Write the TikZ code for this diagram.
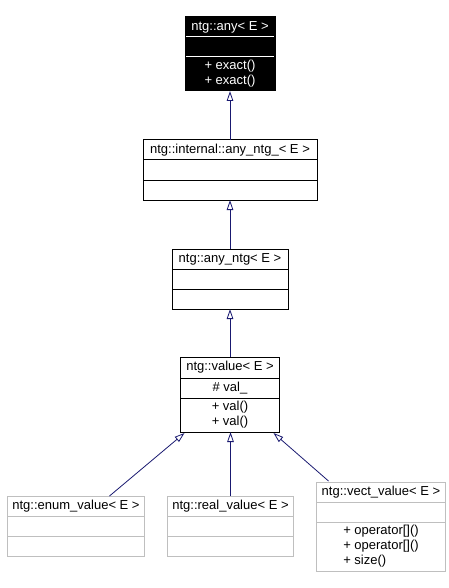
\documentclass[tikz,border=0pt]{standalone}
\usepackage{fontspec}
\setmainfont{Liberation Sans}
\usepackage{tikz}
\usetikzlibrary{positioning}
\usetikzlibrary{shapes,arrows.meta}

\definecolor{midnightblue}{RGB}{25,25,112}
\definecolor{grey75}{RGB}{191,191,191}

\begin{document}
\begin{tikzpicture}[x=1pt,y=1pt,line width=1pt,
                    classtitle/.style={rectangle,
                                        inner sep=0mm,outer sep=0,
                                        draw=black,
                                        minimum height=20pt,
                                        font=\fontsize{13}{15}\selectfont
                                      },
                    classpart/.style={classtitle,align=left},
                    classblack/.style={fill=black,text=white},
                    classgrey/.style={draw=grey75},
                    inherit/.style={
                                    draw=midnightblue,
                                    line width=0.8pt,
                                    -{Triangle[open,length=10pt,width=6.5pt]}
                                    }
                     ]
\useasboundingbox (0,0) rectangle (449,-588);
% ntg::any
\node[classtitle,classblack,minimum width=90pt] (any) at (230,-27) {ntg::any< E >};
\node[classpart,classblack,minimum width=90pt,below=0pt of any] (anyattr) {};
\node[classpart,classblack,minimum width=90pt,minimum height=34pt,below=0pt of anyattr] (anyops) {+ exact()\\+ exact()};
\draw[white] ([xshift=1pt]anyattr.north west) -- ([xshift=-1pt]anyattr.north east);
\draw[white] ([xshift=1pt]anyops.north west) -- ([xshift=-1pt]anyops.north east);
% ntg::internal::any_ntg_
\node[classtitle,minimum width=174pt,below=49pt of anyops] (internal) {ntg::internal::any\_ntg\_< E >};
\node[classpart,minimum width=174pt,below=0pt of internal] (internalattr) {};
\node[classpart,minimum width=174pt,below=0pt of internalattr] (internalops) {};
% ntg::any_ntg
\node[classtitle,minimum width=116pt,below=49pt of internalops] (anyntg) {ntg::any\_ntg< E >};
\node[classpart,minimum width=116pt,below=0pt of anyntg] (anyntgattr) {};
\node[classpart,minimum width=116pt,below=0pt of anyntgattr] (anyntgops) {};
% ntg::value
\node[classtitle,minimum width=99pt,minimum height=21pt,below=48pt of anyntgops] (value) {ntg::value< E >};
\node[classpart,minimum width=99pt,below=0pt of value] (valueattr) {\# val\_};
\node[classpart,minimum width=99pt,minimum height=34pt,below=0pt of valueattr] (valueops) {+ val()\\+ val()};
% derived classes
\node[classtitle,classgrey,minimum width=137pt,below=64pt of valueops,xshift=-154pt] (enum) {ntg::enum\_value< E >};
\node[classpart,classgrey,minimum width=137pt,below=0pt of enum] (enumattr) {};
\node[classpart,classgrey,minimum width=137pt,below=0pt of enumattr] (enumops) {};
\node[classtitle,classgrey,minimum width=126pt,below=64pt of valueops,xshift=0.5pt] (real) {ntg::real\_value< E >};
\node[classpart,classgrey,minimum width=126pt,below=0pt of real] (realattr) {};
\node[classpart,classgrey,minimum width=126pt,below=0pt of realattr] (realops) {};
\node[classtitle,classgrey,minimum width=129pt,below=50pt of valueops,xshift=151pt] (vect) {ntg::vect\_value< E >};
\node[classpart,classgrey,minimum width=129pt,below=0pt of vect] (vectattr) {};
\node[classpart,classgrey,minimum width=129pt,minimum height=49pt,below=0pt of vectattr] (vectops) {+ operator[]()\\+ operator[]()\\+ size()};
% inheritance
\draw[inherit] (internal.north) -- (anyops.south);
\draw[inherit] (anyntg.north) -- (internalops.south);
\draw[inherit] (value.north) -- (anyntgops.south);
\draw[inherit] ([xshift=33.5pt]enum.north) -- ([xshift=4pt,yshift=-1pt]valueops.south west);
\draw[inherit] (real.north) -- ([xshift=0.5pt]valueops.south);
\draw[inherit] ([xshift=-52.5pt,yshift=1pt]vect.north) -- ([xshift=-6pt,yshift=-1pt]valueops.south east);
\end{tikzpicture}
\end{document}
